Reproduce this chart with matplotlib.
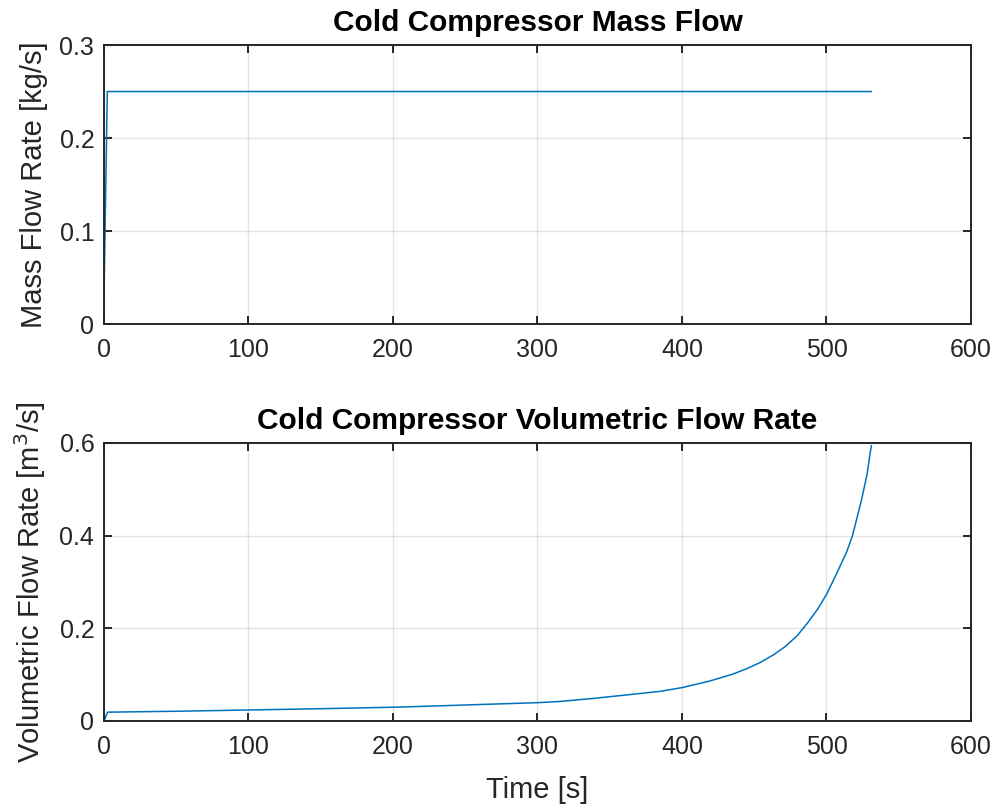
import matplotlib
matplotlib.use("Agg")
import matplotlib.pyplot as plt

# Data
t_mass = [0, 2.3, 531]
mass_flow = [0.029, 0.25, 0.25]

t_vol = [0, 2.5, 50, 100, 150, 205, 250, 300, 315, 338, 361, 385, 400, 419, 435, 445, 454,
         464, 472, 480, 487, 494, 500, 507, 514, 518, 524, 528, 531]
vol_flow = [0.0, 0.019, 0.021, 0.0237, 0.0265, 0.030, 0.0345, 0.0395, 0.042, 0.0485, 0.056,
            0.064, 0.072, 0.086, 0.101, 0.113, 0.126, 0.144, 0.162, 0.185, 0.212, 0.242,
            0.273, 0.318, 0.365, 0.400, 0.474, 0.531, 0.594]

xticks = [0, 100, 200, 300, 400, 500, 600]
yticks_top = [0, 0.1, 0.2, 0.3]
yticks_bot = [0, 0.2, 0.4, 0.6]

plt.rcParams['font.family'] = ['Liberation Sans', 'DejaVu Sans']

fig = plt.figure(figsize=(9.97, 8.07), dpi=100)
ax1 = fig.add_axes([0.1043, 0.5985, 0.8696, 0.3457])
ax2 = fig.add_axes([0.1043, 0.1066, 0.8696, 0.3445])

line_color = '#0072BD'
dark = '#262626'

def style(ax, yticks, ylabels):
    ax.set_xlim(0, 600)
    ax.set_xticks(xticks)
    ax.set_xticklabels([str(x) for x in xticks])
    ax.set_yticks(yticks)
    ax.set_yticklabels(ylabels)
    ax.grid(True, color='#262626', alpha=0.12, linewidth=1)
    ax.set_axisbelow(True)
    for s in ax.spines.values():
        s.set_color(dark)
        s.set_linewidth(1.4)
    ax.tick_params(direction='in', length=6, width=1.4, colors=dark, labelsize=18,
                   top=True, right=True)
    ax.tick_params(axis='x', pad=10)
    ax.tick_params(axis='y', pad=7)
    ax.set_facecolor('white')

ax1.plot(t_mass, mass_flow, color=line_color, linewidth=1.1)
ax1.set_ylim(0, 0.3)
style(ax1, yticks_top, ['0', '0.1', '0.2', '0.3'])
ax1.set_title('Cold Compressor Mass Flow', fontsize=21.5, fontweight='bold', color='black', pad=10)
ax1.set_ylabel('Mass Flow Rate [kg/s]', fontsize=21, color=dark, labelpad=8)

ax2.plot(t_vol, vol_flow, color=line_color, linewidth=1.1)
ax2.set_ylim(0, 0.6)
style(ax2, yticks_bot, ['0', '0.2', '0.4', '0.6'])
ax2.set_title('Cold Compressor Volumetric Flow Rate', fontsize=21.5, fontweight='bold', color='black', pad=10)
ax2.set_ylabel('Volumetric Flow Rate [m$^3$/s]', fontsize=21, color=dark, labelpad=8)
ax2.set_xlabel('Time [s]', fontsize=21, color=dark, labelpad=12)

fig.savefig('out.png', dpi=100, facecolor='white')
